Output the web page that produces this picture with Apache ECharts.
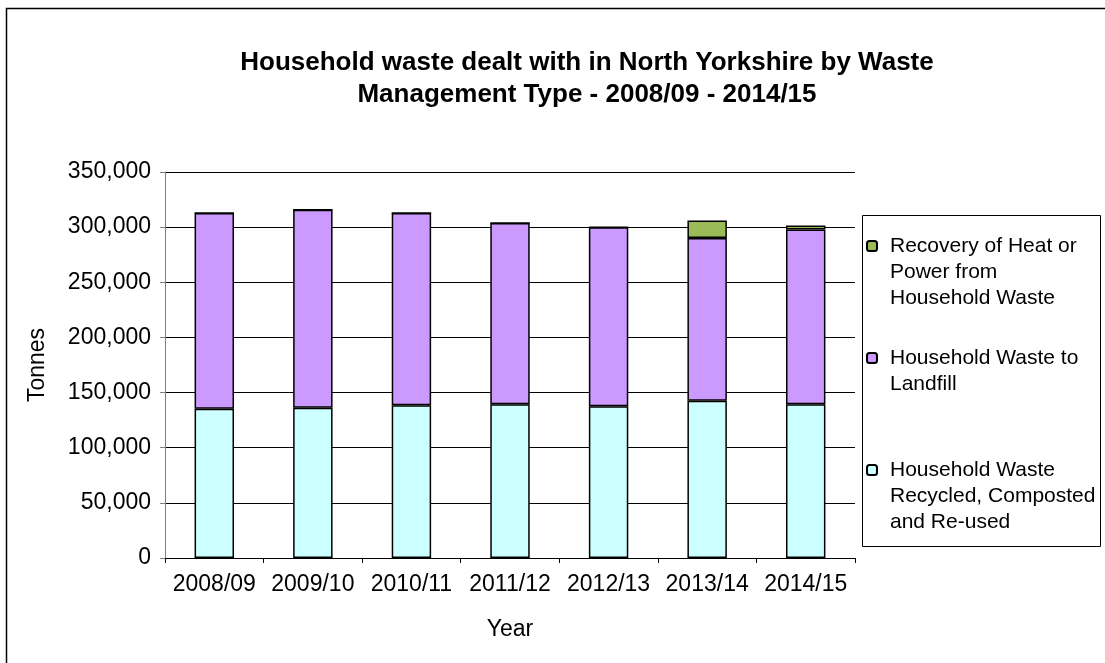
<!DOCTYPE html>
<html><head><meta charset="utf-8">
<script src="https://cdn.jsdelivr.net/npm/echarts@6/dist/echarts.min.js"></script>
<style>html,body{margin:0;padding:0;background:#fff}#c{width:1105px;height:663px}</style>
</head><body><div id="c"></div>
<script>
const categories = ['2008/09','2009/10','2010/11','2011/12','2012/13','2013/14','2014/15'];
const recycled = [135400, 136300, 138400, 139300, 137500, 142600, 139300];
const landfill = [177500, 179500, 174500, 164500, 162500, 147500, 158500];
const recovery = [0, 0, 0, 0, 0, 16000, 3600];
const yTicks = [0, 50000, 100000, 150000, 200000, 250000, 300000, 350000];
const names = {
  rec: 'Recovery of Heat or Power from Household Waste',
  land: 'Household Waste to Landfill',
  recy: 'Household Waste Recycled, Composted and Re-used'
};
const legendLines = {};
legendLines[names.rec] = ['Recovery of Heat or', 'Power from', 'Household Waste'];
legendLines[names.land] = ['Household Waste to', 'Landfill'];
legendLines[names.recy] = ['Household Waste', 'Recycled, Composted', 'and Re-used'];

const FONT = 'Liberation Sans, Arial, sans-serif';
const chart = echarts.init(document.getElementById('c'));
const border = {borderColor: '#000', borderWidth: 1.5};
chart.setOption({
  animation: false,
  textStyle: {fontFamily: FONT, color: '#000'},
  title: {
    text: 'Household waste dealt with in North Yorkshire by Waste\nManagement Type - 2008/09 - 2014/15',
    left: 587, top: 47, padding: 0, textAlign: 'center',
    textStyle: {fontFamily: FONT, fontSize: 26, fontWeight: 'bold', color: '#000', lineHeight: 32}
  },
  graphic: [
    {type: 'rect', left: 4, top: 6, shape: {width: 1120, height: 680}, style: {fill: 'none', stroke: '#000', lineWidth: 1.5}, z: -10},
    {type: 'rect', left: 862, top: 215, shape: {width: 238, height: 331}, style: {fill: '#fff', stroke: '#000', lineWidth: 1}, z: -5}
  ],
  legend: {
    orient: 'vertical', left: 866, top: 181, padding: 0, itemGap: 8,
    itemWidth: 10, itemHeight: 10,
    data: [names.rec, names.land, names.recy],
    formatter: function (n) {
      const l = legendLines[n];
      const blanks = [];
      for (let i = 1; i < l.length; i++) blanks.push('');
      return blanks.concat(l).join('\n');
    },
    textStyle: {fontFamily: FONT, fontSize: 21, color: '#000', lineHeight: 26, padding: [0, 0, 0, 8]}
  },
  grid: {left: 165, right: 250, top: 172, bottom: 105, containLabel: false},
  xAxis: {
    type: 'category', data: categories,
    name: 'Year', nameLocation: 'middle', nameGap: 60,
    nameTextStyle: {fontFamily: FONT, fontSize: 23, color: '#000'},
    axisLine: {lineStyle: {color: '#000', width: 1}},
    axisTick: {show: true, alignWithLabel: false, interval: 0, length: 5, lineStyle: {color: '#000'}},
    axisLabel: {fontFamily: FONT, fontSize: 23, color: '#000', margin: 15, interval: 0, hideOverlap: false}
  },
  yAxis: {
    type: 'value', min: 0, max: 350000, interval: 50000,
    name: 'Tonnes', nameLocation: 'middle', nameGap: 116,
    nameTextStyle: {fontFamily: FONT, fontSize: 23, color: '#000'},
    axisLine: {show: true, lineStyle: {color: '#808080', width: 1}},
    axisTick: {show: true, length: 5, lineStyle: {color: '#808080'}},
    splitLine: {lineStyle: {color: '#000', width: 1}},
    axisLabel: {fontFamily: FONT, fontSize: 23, color: '#000', margin: 14,
      formatter: function (v) { return v.toLocaleString('en-US'); }}
  },
  series: [
    {name: names.recy, type: 'bar', stack: 't', data: recycled, barWidth: '40%', itemStyle: Object.assign({color: '#CCFFFF'}, border)},
    {name: names.land, type: 'bar', stack: 't', data: landfill, barWidth: '40%', itemStyle: Object.assign({color: '#CC99FF'}, border)},
    {name: names.rec, type: 'bar', stack: 't', data: recovery, barWidth: '40%', itemStyle: Object.assign({color: '#9BBB59'}, border)}
  ]
});
</script></body></html>
